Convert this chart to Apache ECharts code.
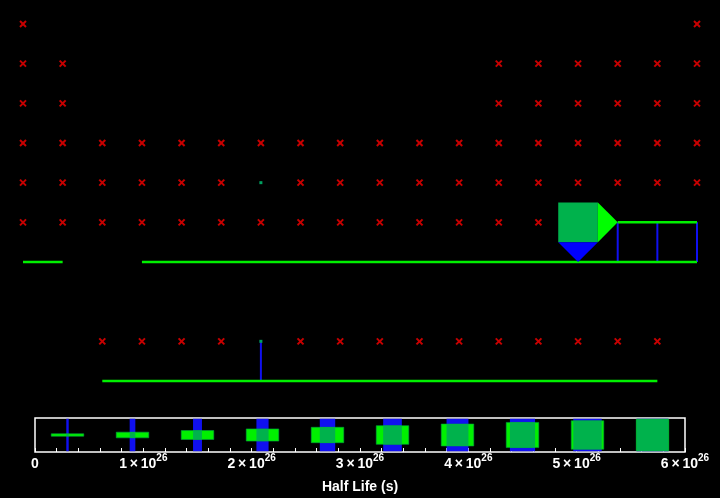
<!DOCTYPE html>
<html><head><meta charset="utf-8">
<script src="https://cdn.jsdelivr.net/npm/echarts@6/dist/echarts.min.js"></script>
<style>html,body{margin:0;padding:0;background:#000}#c{width:720px;height:498px}</style>
</head><body><div id="c"></div>
<script>
// Missing (red cross) cells per row: column indices
const missingRow0 = [0, 17];
const missingRow1 = [0, 1, 12, 13, 14, 15, 16, 17];
const missingRow2 = [0, 1, 12, 13, 14, 15, 16, 17];
const missingRow3 = [0, 1, 2, 3, 4, 5, 6, 7, 8, 9, 10, 11, 12, 13, 14, 15, 16, 17];
const missingRow4 = [0, 1, 2, 3, 4, 5, 7, 8, 9, 10, 11, 12, 13, 14, 15, 16, 17];
const missingRow5 = [0, 1, 2, 3, 4, 5, 6, 7, 8, 9, 10, 11, 12, 13];
const missingRow8 = [2, 3, 4, 5, 7, 8, 9, 10, 11, 12, 13, 14, 15, 16];
// Horizontal (green) links: [row, fromCol, toCol]
const horizontalLinks = [[6, 0, 1], [6, 3, 17], [5, 15, 17], [9, 2, 16]];
// Vertical (blue) links: [col, fromRow, toRow]
const verticalLinks = [[15, 5, 6], [16, 5, 6], [17, 5, 6], [6, 8, 9]];
// Cell glyphs: [col, row, halfLife (s), arrows]
const cellGlyphs = [[14, 5, 6e26, 1], [6, 4, 4e24, 0], [6, 8, 4e24, 0]];
// Legend glyph half lives (s)
const legendHalfLives = [3e25, 9e25, 1.5e26, 2.1e26, 2.7e26, 3.3e26, 3.9e26, 4.5e26, 5.1e26, 5.7e26];
const tickMantissas = ['0', '1', '2', '3', '4', '5', '6'];
const tickExponent = '26';
const axisTitle = 'Half Life (s)';

const GREEN = '#00f000', DARK = '#00b24c', BLUE = '#1010f0', RED = '#c80000';
const MAXHL = 6e26;

const missing = [];
[[0, missingRow0], [1, missingRow1], [2, missingRow2], [3, missingRow3], [4, missingRow4], [5, missingRow5], [8, missingRow8]]
  .forEach(([r, cs]) => cs.forEach(c => missing.push([c, r])));

const chart = echarts.init(document.getElementById('c'), null, {renderer: 'canvas'});
const option = {
  backgroundColor: '#000',
  animation: false,
  grid: [
    {left: 23, right: 23, top: 24, bottom: 117, show: false},
    {left: 35, right: 35, top: 418, bottom: 46, show: true, borderColor: '#fff', borderWidth: 1.5, backgroundColor: 'transparent'}
  ],
  xAxis: [
    {gridIndex: 0, type: 'value', min: 0, max: 17, show: false},
    {gridIndex: 1, type: 'value', min: 0, max: 6e26, interval: 1e26,
      axisLine: {show: false}, splitLine: {show: false},
      axisTick: {show: true, inside: true, length: 4, lineStyle: {color: '#fff', width: 1}},
      minorTick: {show: true, splitNumber: 5, length: 4, lineStyle: {color: '#fff', width: 1}},
      axisLabel: {
        margin: 1, color: '#fff', fontFamily: 'Liberation Sans', fontWeight: 'bold', fontSize: 14,
        formatter: v => {
          const i = Math.round(v / 1e26);
          if (i === 0) return '{m|' + tickMantissas[0] + '}';
          return '{m|' + tickMantissas[i] + '\u2009×\u200910}{s|' + tickExponent + '}';
        },
        rich: {
          m: {fontFamily: 'Liberation Sans', fontWeight: 'bold', fontSize: 14, color: '#fff', lineHeight: 18, verticalAlign: 'bottom'},
          s: {fontFamily: 'Liberation Sans', fontWeight: 'bold', fontSize: 10, color: '#fff', lineHeight: 11, verticalAlign: 'top'}
        }
      },
      name: axisTitle, nameLocation: 'middle', nameGap: 28,
      nameTextStyle: {color: '#fff', fontFamily: 'Liberation Sans', fontWeight: 'bold', fontSize: 14}
    }
  ],
  yAxis: [
    {gridIndex: 0, type: 'value', min: 0, max: 9, inverse: true, show: false},
    {gridIndex: 1, type: 'value', min: 0, max: 1, show: false}
  ],
  series: [
    { // vertical blue links
      type: 'custom', xAxisIndex: 0, yAxisIndex: 0, clip: false,
      data: verticalLinks,
      renderItem: (p, api) => {
        const a = api.coord([api.value(0), api.value(1)]);
        const b = api.coord([api.value(0), api.value(2)]);
        return {type: 'line', shape: {x1: a[0], y1: a[1], x2: b[0], y2: b[1]}, style: {stroke: BLUE, lineWidth: 2}};
      }
    },
    { // horizontal green links
      type: 'custom', xAxisIndex: 0, yAxisIndex: 0, clip: false,
      data: horizontalLinks,
      renderItem: (p, api) => {
        const a = api.coord([api.value(1), api.value(0)]);
        const b = api.coord([api.value(2), api.value(0)]);
        return {type: 'line', shape: {x1: a[0], y1: a[1], x2: b[0], y2: b[1]}, style: {stroke: GREEN, lineWidth: 2.5}};
      }
    },
    { // cell glyphs
      type: 'custom', xAxisIndex: 0, yAxisIndex: 0, clip: false,
      data: cellGlyphs,
      renderItem: (p, api) => {
        const col = api.value(0), row = api.value(1), hl = api.value(2), arrows = api.value(3);
        const c = api.coord([col, row]);
        const cell = api.size([1, 1]);
        const f = hl / MAXHL;
        const children = [];
        if (f < 0.05) {
          const s = 3;
          children.push({type: 'rect', shape: {x: c[0] - s / 2, y: c[1] - s / 2, width: s, height: s}, style: {fill: '#00a060'}});
        } else {
          const w = cell[0] * f, h = cell[1] * f;
          children.push({type: 'rect', shape: {x: c[0] - w / 2, y: c[1] - h / 2, width: w, height: h}, style: {fill: DARK}});
          if (arrows) {
            const r = api.coord([col + 1, row]);
            const d = api.coord([col, row + 1]);
            children.push({type: 'polygon', shape: {points: [[c[0] + w / 2, c[1] - h / 2], [r[0], r[1]], [c[0] + w / 2, c[1] + h / 2]]}, style: {fill: '#00ff00'}});
            children.push({type: 'polygon', shape: {points: [[c[0] - w / 2, c[1] + h / 2], [c[0] + w / 2, c[1] + h / 2], [d[0], d[1]]]}, style: {fill: '#0000ff'}});
          }
        }
        return {type: 'group', children};
      }
    },
    { // red crosses
      type: 'custom', xAxisIndex: 0, yAxisIndex: 0, clip: false,
      data: missing,
      renderItem: (p, api) => {
        const c = api.coord([api.value(0), api.value(1)]);
        const s = 3;
        const st = {stroke: RED, lineWidth: 2};
        return {type: 'group', children: [
          {type: 'line', shape: {x1: c[0] - s, y1: c[1] - s, x2: c[0] + s, y2: c[1] + s}, style: st},
          {type: 'line', shape: {x1: c[0] - s, y1: c[1] + s, x2: c[0] + s, y2: c[1] - s}, style: st}
        ]};
      }
    },
    { // legend glyphs
      type: 'custom', xAxisIndex: 1, yAxisIndex: 1, clip: false,
      data: legendHalfLives.map(v => [v]),
      renderItem: (p, api) => {
        const v = api.value(0);
        const c = api.coord([v, 0.5]);
        const s = api.size([3e25, 0])[0];
        const t = Math.max(1.6, (v / MAXHL) * s + 0.8);
        return {type: 'group', children: [
          {type: 'rect', shape: {x: c[0] - t / 2, y: c[1] - s / 2, width: t, height: s}, style: {fill: BLUE}},
          {type: 'rect', shape: {x: c[0] - s / 2, y: c[1] - t / 2, width: s, height: t}, style: {fill: GREEN, stroke: '#00a040', lineWidth: 0.6}},
          {type: 'rect', shape: {x: c[0] - t / 2, y: c[1] - t / 2, width: t, height: t}, style: {fill: DARK}}
        ]};
      }
    }
  ]
};
chart.setOption(option);
</script></body></html>
